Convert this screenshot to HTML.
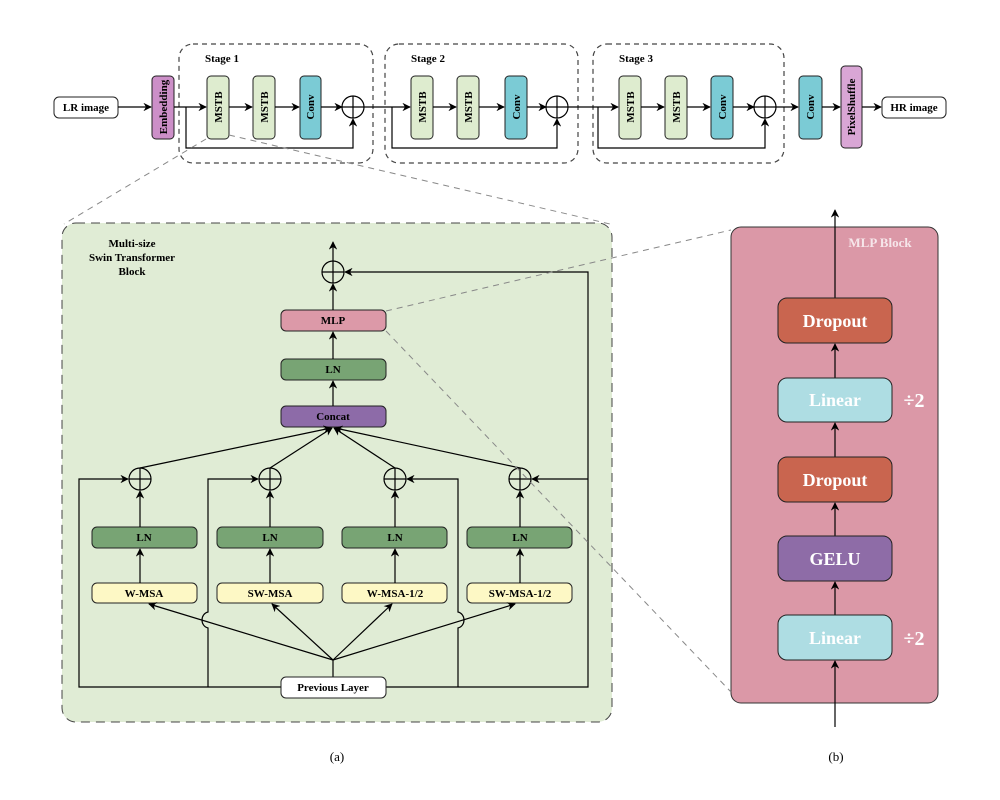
<!DOCTYPE html>
<html><head><meta charset="utf-8"><style>
html,body{margin:0;padding:0;background:#fff}
svg{display:block}
text{font-family:"Liberation Serif",serif;font-weight:bold}
</style></head><body>
<svg width="1000" height="800" viewBox="0 0 1000 800" xmlns="http://www.w3.org/2000/svg">
<defs>
<marker id="a" viewBox="0 0 10 10" refX="9" refY="5" markerWidth="7" markerHeight="7" orient="auto-start-reverse"><path d="M0,0 L10,5 L0,10 L3,5 z" fill="#000"/></marker>
</defs>
<g fill="none" stroke="#000" stroke-width="1.2">
<rect x="179" y="44" width="194" height="119" rx="14" stroke="#444" stroke-dasharray="5,4"/>
<rect x="385" y="44" width="193" height="119" rx="14" stroke="#444" stroke-dasharray="5,4"/>
<rect x="593" y="44" width="191" height="119" rx="14" stroke="#444" stroke-dasharray="5,4"/>
</g>
<g stroke="#222" stroke-width="1">
<rect x="54" y="97" width="64" height="21" rx="5" fill="#fff"/>
<rect x="152" y="76" width="22" height="63" rx="4" fill="#cc8fc8"/>
<rect x="207" y="76" width="22" height="63" rx="4" fill="#deeccf"/>
<rect x="253" y="76" width="22" height="63" rx="4" fill="#deeccf"/>
<rect x="300" y="76" width="21" height="63" rx="4" fill="#7bcbd5"/>
<rect x="411" y="76" width="22" height="63" rx="4" fill="#deeccf"/>
<rect x="457" y="76" width="22" height="63" rx="4" fill="#deeccf"/>
<rect x="505" y="76" width="22" height="63" rx="4" fill="#7bcbd5"/>
<rect x="619" y="76" width="22" height="63" rx="4" fill="#deeccf"/>
<rect x="665" y="76" width="22" height="63" rx="4" fill="#deeccf"/>
<rect x="711" y="76" width="22" height="63" rx="4" fill="#7bcbd5"/>
<rect x="799" y="76" width="23" height="63" rx="4" fill="#7bcbd5"/>
<rect x="841" y="66" width="21" height="82" rx="4" fill="#d9a6d5"/>
<rect x="882" y="97" width="64" height="21" rx="5" fill="#fff"/>
</g>
<g fill="none" stroke="#000" stroke-width="1.2">
<line x1="118" y1="107" x2="151" y2="107" marker-end="url(#a)"/>
<line x1="174" y1="107" x2="206" y2="107" marker-end="url(#a)"/>
<line x1="229" y1="107" x2="252" y2="107" marker-end="url(#a)"/>
<line x1="275" y1="107" x2="299" y2="107" marker-end="url(#a)"/>
<line x1="321" y1="107" x2="342" y2="107" marker-end="url(#a)"/>
<circle cx="353" cy="107" r="11"/><line x1="342" y1="107" x2="364" y2="107"/><line x1="353" y1="96" x2="353" y2="118"/>
<polyline points="186,107 186,148 353,148 353,119" marker-end="url(#a)"/>
<line x1="364" y1="107" x2="410" y2="107" marker-end="url(#a)"/>
<line x1="433" y1="107" x2="456" y2="107" marker-end="url(#a)"/>
<line x1="479" y1="107" x2="504" y2="107" marker-end="url(#a)"/>
<line x1="527" y1="107" x2="546" y2="107" marker-end="url(#a)"/>
<circle cx="557" cy="107" r="11"/><line x1="546" y1="107" x2="568" y2="107"/><line x1="557" y1="96" x2="557" y2="118"/>
<polyline points="392,107 392,148 557,148 557,119" marker-end="url(#a)"/>
<line x1="568" y1="107" x2="618" y2="107" marker-end="url(#a)"/>
<line x1="641" y1="107" x2="664" y2="107" marker-end="url(#a)"/>
<line x1="687" y1="107" x2="710" y2="107" marker-end="url(#a)"/>
<line x1="733" y1="107" x2="754" y2="107" marker-end="url(#a)"/>
<circle cx="765" cy="107" r="11"/><line x1="754" y1="107" x2="776" y2="107"/><line x1="765" y1="96" x2="765" y2="118"/>
<polyline points="598,107 598,148 765,148 765,119" marker-end="url(#a)"/>
<line x1="776" y1="107" x2="798" y2="107" marker-end="url(#a)"/>
<line x1="822" y1="107" x2="840" y2="107" marker-end="url(#a)"/>
<line x1="862" y1="107" x2="881" y2="107" marker-end="url(#a)"/>
</g>
<g font-size="11" text-anchor="middle" fill="#000">
<text x="86" y="111">LR image</text>
<text x="914" y="111">HR image</text>
<text x="222" y="62">Stage 1</text>
<text x="428" y="62">Stage 2</text>
<text x="636" y="62">Stage 3</text>
<text transform="translate(167,107) rotate(-90)">Embedding</text>
<text transform="translate(222,107) rotate(-90)">MSTB</text>
<text transform="translate(268,107) rotate(-90)">MSTB</text>
<text transform="translate(314,107) rotate(-90)">Conv</text>
<text transform="translate(426,107) rotate(-90)">MSTB</text>
<text transform="translate(472,107) rotate(-90)">MSTB</text>
<text transform="translate(520,107) rotate(-90)">Conv</text>
<text transform="translate(634,107) rotate(-90)">MSTB</text>
<text transform="translate(680,107) rotate(-90)">MSTB</text>
<text transform="translate(726,107) rotate(-90)">Conv</text>
<text transform="translate(814,107) rotate(-90)">Conv</text>
<text transform="translate(855,107) rotate(-90)">PixelShuffle</text>
</g>

<!-- panel a -->
<rect x="62" y="223" width="550" height="499" rx="14" fill="#e0ecd5" stroke="#444" stroke-width="1" stroke-dasharray="9,6"/>
<g font-size="11" text-anchor="middle"><text x="132" y="247">Multi-size</text><text x="132" y="261">Swin Transformer</text><text x="132" y="275">Block</text></g>
<g stroke="#222" stroke-width="1">
<rect x="281" y="310" width="105" height="21" rx="5" fill="#dc99a8"/>
<rect x="281" y="359" width="105" height="21" rx="5" fill="#78a474"/>
<rect x="281" y="406" width="105" height="21" rx="5" fill="#8d6ba8"/>
<rect x="92" y="527" width="105" height="21" rx="5" fill="#78a474"/>
<rect x="217" y="527" width="106" height="21" rx="5" fill="#78a474"/>
<rect x="342" y="527" width="105" height="21" rx="5" fill="#78a474"/>
<rect x="467" y="527" width="105" height="21" rx="5" fill="#78a474"/>
<rect x="92" y="583" width="105" height="20" rx="5" fill="#fdf8c5"/>
<rect x="217" y="583" width="106" height="20" rx="5" fill="#fdf8c5"/>
<rect x="342" y="583" width="105" height="20" rx="5" fill="#fdf8c5"/>
<rect x="467" y="583" width="105" height="20" rx="5" fill="#fdf8c5"/>
</g>
<g fill="none" stroke="#000" stroke-width="1.2">
<circle cx="333" cy="272" r="11"/><line x1="322" y1="272" x2="344" y2="272"/><line x1="333" y1="261" x2="333" y2="283"/>
<line x1="333" y1="261" x2="333" y2="242" marker-end="url(#a)"/>
<line x1="333" y1="310" x2="333" y2="284" marker-end="url(#a)"/>
<line x1="333" y1="359" x2="333" y2="332" marker-end="url(#a)"/>
<line x1="333" y1="406" x2="333" y2="381" marker-end="url(#a)"/>
<polyline points="386,687 588,687 588,272 345,272" marker-end="url(#a)"/>
<line x1="588" y1="479" x2="532" y2="479" marker-end="url(#a)"/>
<polyline points="281,687 79,687 79,479 128,479" marker-end="url(#a)"/>
<path d="M208,687 L208,628 C200,626 200,614 208,612 L208,479 L258,479" marker-end="url(#a)"/>
<path d="M458,687 L458,628 C466,626 466,614 458,612 L458,479 L407,479" marker-end="url(#a)"/>
<circle cx="140" cy="479" r="11"/><line x1="129" y1="479" x2="151" y2="479"/><line x1="140" y1="468" x2="140" y2="490"/>
<circle cx="270" cy="479" r="11"/><line x1="259" y1="479" x2="281" y2="479"/><line x1="270" y1="468" x2="270" y2="490"/>
<circle cx="395" cy="479" r="11"/><line x1="384" y1="479" x2="406" y2="479"/><line x1="395" y1="468" x2="395" y2="490"/>
<circle cx="520" cy="479" r="11"/><line x1="509" y1="479" x2="531" y2="479"/><line x1="520" y1="468" x2="520" y2="490"/>
<line x1="140" y1="527" x2="140" y2="491" marker-end="url(#a)"/>
<line x1="270" y1="527" x2="270" y2="491" marker-end="url(#a)"/>
<line x1="395" y1="527" x2="395" y2="491" marker-end="url(#a)"/>
<line x1="520" y1="527" x2="520" y2="491" marker-end="url(#a)"/>
<line x1="140" y1="583" x2="140" y2="549" marker-end="url(#a)"/>
<line x1="270" y1="583" x2="270" y2="549" marker-end="url(#a)"/>
<line x1="395" y1="583" x2="395" y2="549" marker-end="url(#a)"/>
<line x1="520" y1="583" x2="520" y2="549" marker-end="url(#a)"/>
<line x1="140" y1="468" x2="331" y2="428" marker-end="url(#a)"/>
<line x1="270" y1="468" x2="332" y2="428" marker-end="url(#a)"/>
<line x1="395" y1="468" x2="334" y2="428" marker-end="url(#a)"/>
<line x1="520" y1="468" x2="335" y2="428" marker-end="url(#a)"/>
<line x1="333" y1="677" x2="333" y2="660"/>
<line x1="333" y1="660" x2="149" y2="604" marker-end="url(#a)"/>
<line x1="333" y1="660" x2="272" y2="604" marker-end="url(#a)"/>
<line x1="333" y1="660" x2="392" y2="604" marker-end="url(#a)"/>
<line x1="333" y1="660" x2="515" y2="604" marker-end="url(#a)"/>
</g>
<rect x="281" y="677" width="105" height="21" rx="5" fill="#fff" stroke="#222" stroke-width="1"/>
<g font-size="11" text-anchor="middle">
<text x="333" y="324">MLP</text>
<text x="333" y="373">LN</text>
<text x="333" y="420">Concat</text>
<text x="144" y="541">LN</text><text x="270" y="541">LN</text><text x="395" y="541">LN</text><text x="520" y="541">LN</text>
<text x="144" y="597">W-MSA</text><text x="270" y="597">SW-MSA</text><text x="395" y="597">W-MSA-1/2</text><text x="520" y="597">SW-MSA-1/2</text>
<text x="333" y="691">Previous Layer</text>
</g>

<!-- panel b -->
<rect x="731" y="227" width="207" height="476" rx="10" fill="#db98a7" stroke="#333" stroke-width="1"/>
<text x="880" y="247" font-size="13" fill="#f6e6ea" text-anchor="middle">MLP Block</text>
<g fill="none" stroke="#000" stroke-width="1.2">
<line x1="835" y1="727" x2="835" y2="661" marker-end="url(#a)"/>
<line x1="835" y1="615" x2="835" y2="582" marker-end="url(#a)"/>
<line x1="835" y1="536" x2="835" y2="503" marker-end="url(#a)"/>
<line x1="835" y1="457" x2="835" y2="423" marker-end="url(#a)"/>
<line x1="835" y1="378" x2="835" y2="344" marker-end="url(#a)"/>
<line x1="835" y1="298" x2="835" y2="210" marker-end="url(#a)"/>
</g>
<g stroke="#222" stroke-width="1">
<rect x="778" y="298" width="114" height="45" rx="9" fill="#c9654f"/>
<rect x="778" y="378" width="114" height="44" rx="9" fill="#aedde3"/>
<rect x="778" y="457" width="114" height="45" rx="9" fill="#c9654f"/>
<rect x="778" y="536" width="114" height="45" rx="9" fill="#8e6ca7"/>
<rect x="778" y="615" width="114" height="45" rx="9" fill="#aedde3"/>
</g>
<g font-size="18" fill="#fff" text-anchor="middle">
<text x="835" y="327">Dropout</text>
<text x="835" y="406">Linear</text>
<text x="835" y="486">Dropout</text>
<text x="835" y="565">GELU</text>
<text x="835" y="644">Linear</text>
<text x="914" y="407" font-size="20">÷2</text>
<text x="914" y="645" font-size="20">÷2</text>
</g>

<!-- zoom lines on top -->
<g stroke="#888" stroke-width="1" stroke-dasharray="6,5" fill="none">
<line x1="206" y1="139" x2="64" y2="224"/>
<line x1="229" y1="135" x2="610" y2="224"/>
<line x1="386" y1="311" x2="731" y2="230"/>
<line x1="386" y1="331" x2="731" y2="692"/>
</g>

<g font-size="13" text-anchor="middle">
<text x="337" y="761" style="font-weight:normal">(a)</text>
<text x="836" y="761" style="font-weight:normal">(b)</text>
</g>
</svg>
</body></html>
